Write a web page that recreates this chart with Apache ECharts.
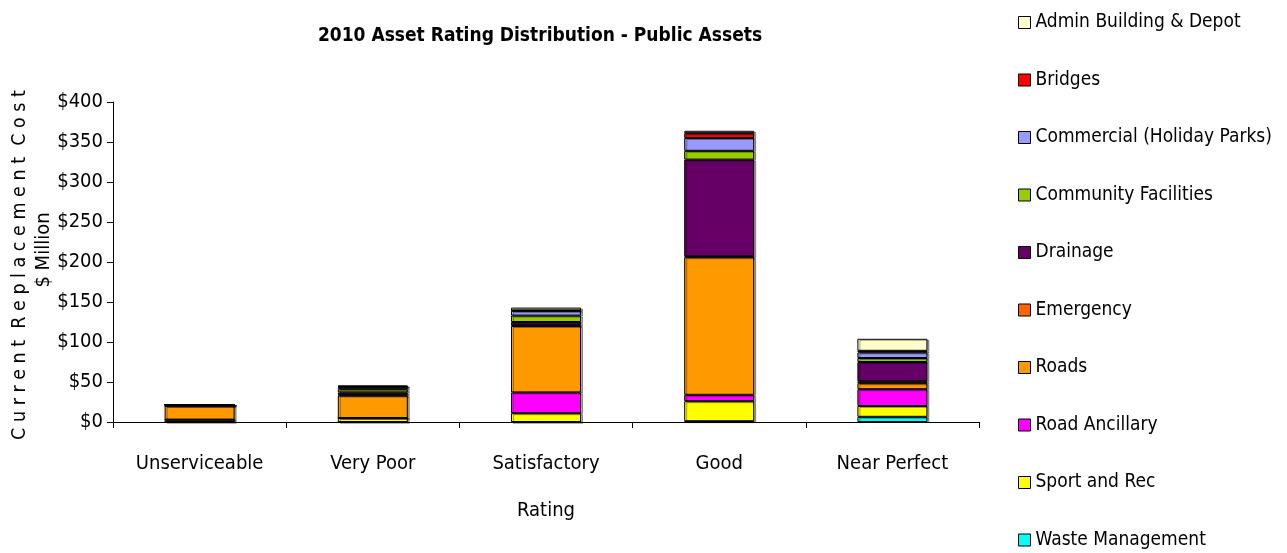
<!DOCTYPE html>
<html>
<head>
<meta charset="utf-8">
<script src="https://cdn.jsdelivr.net/npm/echarts@6/dist/echarts.min.js"></script>
<style>
  html, body { margin: 0; padding: 0; background: #fff; }
  #chart { width: 1287px; height: 553px; }
</style>
</head>
<body>
<div id="chart"></div>
<script>
// Rating categories along the x axis
const categories = ['Unserviceable', 'Very Poor', 'Satisfactory', 'Good', 'Near Perfect'];

// Replacement cost ($ million) per asset class, per rating (stacked bottom to top)
const wasteManagement     = [0,    0,   0,    1,   6.5];
const sportAndRec         = [3,    5,   11,   25,  13.5];
const roadAncillary       = [0,    0,   26,   8,   21];
const roads               = [17,   28,  83,   172, 7.5];
const emergency           = [0,    1,   1,    1,   2.5];
const drainage            = [1.5,  3,   4,    121, 24];
const communityFacilities = [0,    4,   8,    11,  5];
const commercial          = [0,    3,   6,    16,  7];
const bridges             = [0,    0.5, 0.5,  6,   2];
const adminBuilding       = [0,    1,   3.5,  3,   15];

const yTicks = { min: 0, max: 400, interval: 50 };

const FONT = '"DejaVu Sans Condensed", "Liberation Sans Narrow", "Liberation Sans", sans-serif';

const seriesDefs = [
  { name: 'Waste Management',          data: wasteManagement,     color: '#00FFFF' },
  { name: 'Sport and Rec',             data: sportAndRec,         color: '#FFFF00' },
  { name: 'Road Ancillary',            data: roadAncillary,       color: '#FF00FF' },
  { name: 'Roads',                     data: roads,               color: '#FF9900' },
  { name: 'Emergency',                 data: emergency,           color: '#FF6600' },
  { name: 'Drainage',                  data: drainage,            color: '#660066' },
  { name: 'Community Facilities',      data: communityFacilities, color: '#99CC00' },
  { name: 'Commercial (Holiday Parks)',data: commercial,          color: '#9999FF' },
  { name: 'Bridges',                   data: bridges,             color: '#FF0000' },
  { name: 'Admin Building & Depot',    data: adminBuilding,       color: '#FFFFCC' }
];

const chart = echarts.init(document.getElementById('chart'), null, { renderer: 'canvas' });

chart.setOption({
  animation: false,
  backgroundColor: '#ffffff',
  title: {
    text: '2010 Asset Rating Distribution - Public Assets',
    left: 535,
    top: 22,
    textAlign: 'center',
    textStyle: { fontFamily: FONT, fontSize: 19, fontWeight: 'bold', color: '#000' }
  },
  legend: {
    orient: 'vertical',
    left: 1013,
    top: 8,
    height: 600,
    itemWidth: 12,
    itemHeight: 12,
    itemGap: 38.5,
    icon: 'rect',
    data: seriesDefs.map(s => s.name).reverse(),
    textStyle: { fontFamily: FONT, fontSize: 19, color: '#000' },
    itemStyle: { borderColor: '#000', borderWidth: 1 }
  },
  grid: { left: 113, right: 308, top: 102, bottom: 131, containLabel: false },
  xAxis: {
    type: 'category',
    data: categories,
    name: 'Rating',
    nameLocation: 'middle',
    nameGap: 79,
    nameTextStyle: { fontFamily: FONT, fontSize: 20, color: '#000' },
    axisLine: { lineStyle: { color: '#000', width: 1 } },
    axisTick: { show: true, length: 6, lineStyle: { color: '#000' } },
    axisLabel: { fontFamily: FONT, fontSize: 20, color: '#000', margin: 32 }
  },
  yAxis: {
    type: 'value',
    min: yTicks.min,
    max: yTicks.max,
    interval: yTicks.interval,
    axisLine: { show: true, lineStyle: { color: '#000', width: 1 } },
    axisTick: { show: true, length: 6, lineStyle: { color: '#000' } },
    splitLine: { show: false },
    axisLabel: {
      fontFamily: FONT, fontSize: 20, color: '#000', margin: 10,
      formatter: v => '$' + v
    }
  },
  graphic: [
    {
      type: 'text',
      x: 10, y: 265,
      rotation: Math.PI / 2,
      style: {
        text: 'C u r r e n t  R e p l a c e m e n t  C o s t',
        fontFamily: FONT, fontSize: 19.5, fill: '#000',
        textAlign: 'center', textVerticalAlign: 'top'
      }
    },
    {
      type: 'text',
      x: 34, y: 250,
      rotation: Math.PI / 2,
      style: {
        text: '$ Million',
        fontFamily: FONT, fontSize: 20, fill: '#000',
        textAlign: 'center', textVerticalAlign: 'top'
      }
    }
  ],
  series: seriesDefs.map(s => ({
    name: s.name,
    type: 'bar',
    stack: 'total',
    data: s.data,
    barWidth: 70,
    itemStyle: {
      color: s.color,
      borderColor: '#000',
      borderWidth: 1,
      shadowColor: 'rgba(0,0,0,0.35)',
      shadowOffsetX: 2,
      shadowOffsetY: 1
    }
  }))
});
</script>
</body>
</html>
